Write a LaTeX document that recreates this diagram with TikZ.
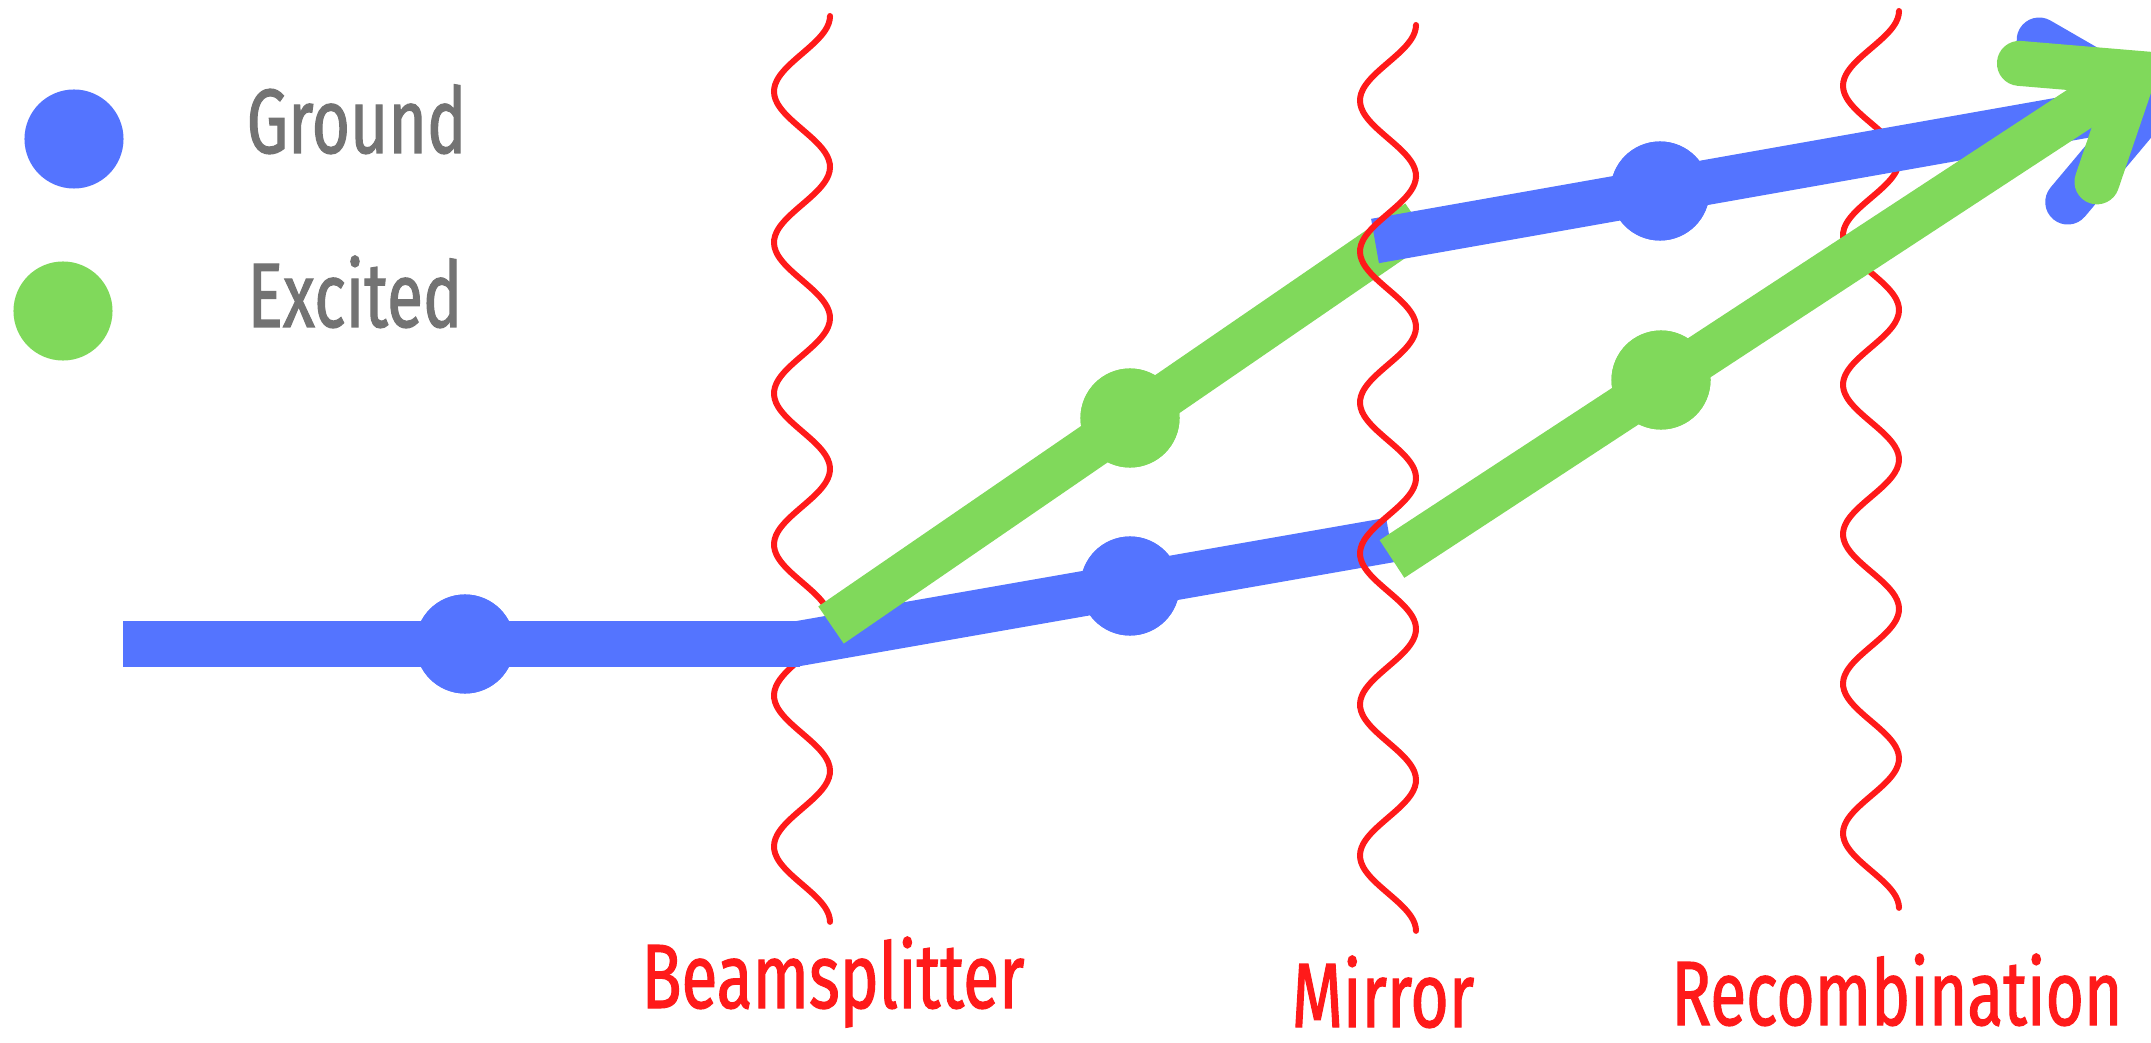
\documentclass[tikz,border=0pt]{standalone}
\usepackage{fontspec}
\setmainfont{Fira Sans}[FakeStretch=0.72, FakeBold=1.2]
\usepackage{xcolor}
\usepackage{tikz}
\usetikzlibrary{calc}
\definecolor{groundblue}{RGB}{84, 116, 255}
\definecolor{excitedgreen}{RGB}{128, 217, 91}
\definecolor{wavered}{RGB}{255, 26, 26}
\definecolor{legendgray}{RGB}{115, 115, 115}

\begin{document}
\begin{tikzpicture}[
  x=0.01cm, y=-0.01cm,
  dot/.style={circle, inner sep=0pt, minimum size=0.99cm},
  beam/.style={line width=0.45cm, line cap=butt},
  barb/.style={line width=0.45cm, line cap=round, line join=miter},
  wave/.style={wavered, line width=0.06cm, line cap=round},
  legend/.style={font=\fontsize{26}{27}\selectfont, text=legendgray, anchor=base west, inner sep=0pt},
  label/.style={font=\fontsize{26}{27}\selectfont, text=wavered, anchor=base, inner sep=0pt, text depth=0pt}
]
\useasboundingbox (0,0) rectangle (2151,1043);

\node[dot, fill=groundblue]   (keyg) at (74,139) {};
\node[dot, fill=excitedgreen] (keye) at (63,311) {};
\node[legend] (keygtext) at (246,153) {Ground};
\node[legend] (keyetext) at (247,327) {Excited};

\draw[wave] plot[domain=0:12, samples=240, smooth] ({802+28*cos(180*\x)}, {16+75.5*\x});
\draw[wave] plot[domain=0:12, samples=240, smooth] ({1871+28*cos(180*\x)}, {11+74.75*\x});

\coordinate (src)   at (123,644);
\coordinate (bsin)  at (800,644);
\coordinate (bsout) at (790,645);
\coordinate (lowb)  at (1390,540);
\coordinate (upg0)  at (831,625);
\coordinate (upg1)  at (1418,222);
\coordinate (upb0)  at (1375,241);
\coordinate (btip)  at (2150,104);
\coordinate (lowg0) at (1392,559);
\coordinate (gtip)  at (2134,73);

\node[dot, fill=groundblue]   (g1) at (465,644) {};
\node[dot, fill=groundblue]   (g2) at (1130,586) {};
\node[dot, fill=excitedgreen] (e1) at (1130,418) {};
\node[dot, fill=groundblue]   (g3) at (1660,191) {};
\node[dot, fill=excitedgreen] (e2) at (1661,380) {};

\draw[beam, groundblue] (src) -- (bsin);
\draw[beam, groundblue] (bsout) -- (lowb);
\node[dot, fill=groundblue] at (g1) {};
\node[dot, fill=groundblue] at (g2) {};

\draw[beam, excitedgreen] (upg0) -- (upg1);
\node[dot, fill=excitedgreen] at (e1) {};

\draw[beam, groundblue] (upb0) -- (btip);
\node[dot, fill=groundblue] at (g3) {};
\draw[barb, groundblue] ($(btip)+(210:128)$) -- (btip) -- ($(btip)+(130:128)$);

\draw[beam, excitedgreen] (lowg0) -- (gtip);
\node[dot, fill=excitedgreen] at (e2) {};
\draw[barb, excitedgreen] ($(gtip)+(184.8:115)$) -- (gtip) -- ($(gtip)+(108.8:115)$);

\draw[wave] plot[domain=0:12, samples=240, smooth] ({1388+28*cos(180*\x)}, {25+75.5*\x});

\node[label] (bslabel)  at (833,1008)  {Beamsplitter};
\node[label] (mlabel)   at (1383,1027) {Mirror};
\node[label] (rclabel)  at (1897,1025) {Recombination};
\end{tikzpicture}
\end{document}
